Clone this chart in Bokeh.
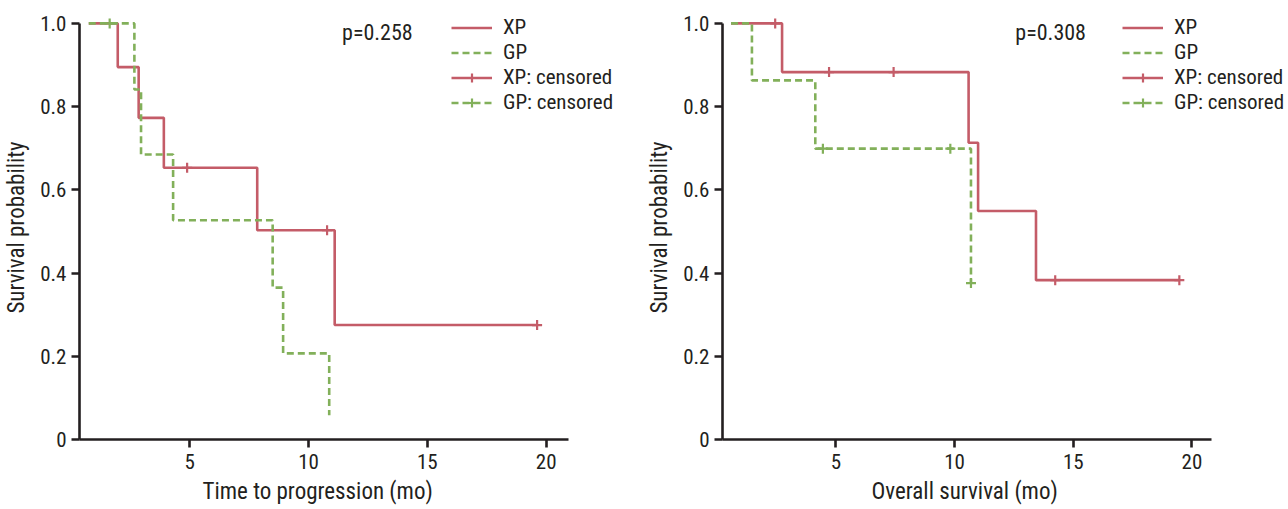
import numpy as np
from bokeh.plotting import figure
from bokeh.models import Legend, LegendItem, Label, FixedTicker, Range1d, Title
from bokeh.layouts import row
from bokeh.embed import file_html
from bokeh.resources import INLINE

FONT = "'Roboto Condensed', 'Liberation Sans Narrow', 'DejaVu Sans Condensed', sans-serif"
RED = "#c45c68"
GREEN = "#82b05a"
AXC = "#231f20"

# ---- Time to progression (left) ----
ttp_xp_t = [0.75, 1.97, 2.85, 3.91, 7.84, 11.10, 19.62]
ttp_xp_s = [1.0, 0.895, 0.773, 0.653, 0.503, 0.275, 0.275]
ttp_xp_cens_t = [4.89, 10.78, 19.62]
ttp_xp_cens_s = [0.653, 0.503, 0.275]

ttp_gp_t = [0.75, 2.67, 2.95, 4.30, 8.49, 8.93, 10.87]
ttp_gp_s = [1.0, 0.841, 0.685, 0.527, 0.365, 0.207, 0.058]
ttp_gp_cens_t = [1.63]
ttp_gp_cens_s = [1.0]

# ---- Overall survival (right) ----
os_xp_t = [0.58, 2.73, 10.59, 10.99, 13.43, 19.47]
os_xp_s = [1.0, 0.883, 0.713, 0.549, 0.383, 0.383]
os_xp_cens_t = [2.44, 4.71, 7.43, 14.24, 19.47]
os_xp_cens_s = [1.0, 0.883, 0.883, 0.383, 0.383]

os_gp_t = [0.58, 1.46, 4.13, 10.69]
os_gp_s = [1.0, 0.863, 0.699, 0.376]
os_gp_cens_t = [4.45, 9.82, 10.69]
os_gp_cens_s = [0.699, 0.699, 0.376]

x_ticks = [5, 10, 15, 20]
y_ticks = [0, 0.2, 0.4, 0.6, 0.8, 1.0]
y_tick_labels = ["0", "0.2", "0.4", "0.6", "0.8", "1.0"]
legend_labels = ["XP", "GP", "XP: censored", "GP: censored"]


def make_plot(width, border_left, border_right, x0, x1, axis_end, xlabel,
              xlabel_offset, xp_t, xp_s, xp_ct, xp_cs, gp_t, gp_s, gp_ct,
              gp_cs, ptext, px, py, leg_x):
    p = figure(width=width, height=508, x_range=Range1d(x0, x1),
               y_range=Range1d(0, 1.019), output_backend="svg",
               toolbar_location=None, min_border_left=border_left,
               min_border_right=border_right, min_border_top=15,
               min_border_bottom=69)
    p.outline_line_color = None
    p.grid.visible = False
    p.background_fill_color = "white"

    r_xp = p.step(xp_t, xp_s, mode="after", line_color=RED, line_width=2.6)
    r_gp = p.step(gp_t, gp_s, mode="after", line_color=GREEN, line_width=2.6,
                  line_dash="7 4")
    c_xp = p.scatter(xp_ct, xp_cs, marker="cross", size=10,
                     line_color=RED, line_width=2.2)
    c_gp = p.scatter(gp_ct, gp_cs, marker="cross", size=10,
                     line_color=GREEN, line_width=2.2)

    for ax in (p.xaxis[0], p.yaxis[0]):
        ax.axis_line_color = AXC
        ax.axis_line_width = 2.6
        ax.major_tick_line_color = AXC
        ax.major_tick_line_width = 2.6
        ax.major_tick_out = 8
        ax.major_tick_in = 0
        ax.minor_tick_out = 0
        ax.minor_tick_in = 0
        ax.major_label_text_font = FONT
        ax.major_label_text_font_size = "21px"
        ax.major_label_text_color = AXC
        ax.axis_label_text_font = FONT
        ax.axis_label_text_font_size = "23px"
        ax.axis_label_text_font_style = "normal"
        ax.axis_label_text_color = AXC

    p.xaxis.ticker = FixedTicker(ticks=x_ticks)
    p.xaxis.bounds = (x0, axis_end)
    p.xaxis.major_label_standoff = 6

    p.add_layout(Title(text=xlabel, align="left", offset=xlabel_offset,
                       text_font=FONT, text_font_size="23px",
                       text_font_style="normal", text_color=AXC,
                       standoff=8), "below")

    p.yaxis.ticker = FixedTicker(ticks=y_ticks)
    p.yaxis.bounds = (0, 1)
    p.yaxis.major_label_overrides = {t: l for t, l in zip(y_ticks, y_tick_labels)}
    p.yaxis.axis_label = "Survival probability"
    p.yaxis.major_label_standoff = 5
    p.yaxis.axis_label_standoff = 7

    p.add_layout(Label(x=px, y=py, text=ptext, text_font=FONT,
                       text_font_size="22px", text_color=AXC,
                       text_baseline="middle", text_align="left"))

    items = [
        LegendItem(label=legend_labels[0], renderers=[r_xp]),
        LegendItem(label=legend_labels[1], renderers=[r_gp]),
        LegendItem(label=legend_labels[2], renderers=[r_xp, c_xp]),
        LegendItem(label=legend_labels[3], renderers=[r_gp, c_gp]),
    ]
    legend = Legend(items=items, location=(leg_x, 325),
                    glyph_width=41, glyph_height=23, label_height=23,
                    spacing=1, padding=0, margin=0, label_standoff=11,
                    border_line_alpha=0, background_fill_alpha=0,
                    label_text_font=FONT, label_text_font_size="21px",
                    label_text_color=AXC)
    p.add_layout(legend)
    return p


p1 = make_plot(624, 79, 4, 0.36, 23.13, 20.94, "Time to progression (mo)", 123,
               ttp_xp_t, ttp_xp_s, ttp_xp_cens_t, ttp_xp_cens_s,
               ttp_gp_t, ttp_gp_s, ttp_gp_cens_t, ttp_gp_cens_s,
               "p=0.258", 11.41, 0.978, 372)
p2 = make_plot(664, 98, 0, 0.22, 24.07, 20.82, "Overall survival (mo)", 149,
               os_xp_t, os_xp_s, os_xp_cens_t, os_xp_cens_s,
               os_gp_t, os_gp_s, os_gp_cens_t, os_gp_cens_s,
               "p=0.308", 12.56, 0.978, 400)

layout = row(p1, p2)
open("out.html", "w").write(file_html(layout, INLINE))
